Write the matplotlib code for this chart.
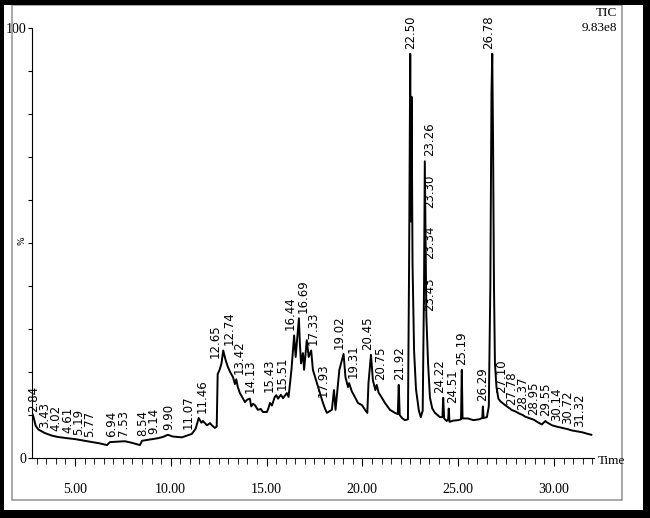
import numpy as np
import matplotlib
matplotlib.use('Agg')
import matplotlib.pyplot as plt
from matplotlib.patches import Rectangle
from matplotlib.ticker import MultipleLocator

# TIC trace: retention time (min) and relative abundance (%)
rt = [2.76, 2.84, 2.95, 3.10, 3.43, 3.80, 4.10, 4.60, 5.00, 5.50, 5.90, 6.30, 6.67, 6.83, 7.20,
      7.61, 8.00, 8.39, 8.50, 8.90, 9.33, 9.60, 9.85, 10.10, 10.58, 10.90, 11.10, 11.30, 11.46, 11.60,
      11.68, 11.89, 12.05, 12.15, 12.30, 12.40, 12.45, 12.55, 12.65, 12.74, 12.85, 12.98, 13.10, 13.25,
      13.35, 13.42, 13.50, 13.61, 13.75, 13.87, 14.00, 14.13, 14.20, 14.30, 14.39, 14.55, 14.70, 14.81,
      15.02, 15.10, 15.18, 15.28, 15.43, 15.51, 15.60, 15.75, 15.86, 16.06, 16.15, 16.30, 16.44, 16.52,
      16.69, 16.74, 16.80, 16.90, 16.96, 17.10, 17.20, 17.33, 17.42, 17.63, 17.79, 17.93, 18.05, 18.15,
      18.41, 18.52, 18.60, 18.80, 19.02, 19.12, 19.25, 19.31, 19.45, 19.61, 19.77, 19.98, 20.14, 20.26,
      20.32, 20.45, 20.55, 20.68, 20.75, 20.85, 21.02, 21.18, 21.44, 21.70, 21.85, 21.90, 21.95, 22.07,
      22.22, 22.38, 22.44, 22.50, 22.53, 22.57, 22.62, 22.70, 22.80, 22.95, 23.05, 23.15, 23.22, 23.26,
      23.30, 23.34, 23.43, 23.53, 23.65, 23.79, 24.05, 24.18, 24.22, 24.27, 24.40, 24.48, 24.51, 24.55,
      24.75, 25.00, 25.15, 25.19, 25.23, 25.50, 25.80, 26.10, 26.26, 26.29, 26.33, 26.50, 26.60, 26.68,
      26.74, 26.78, 26.82, 26.87, 26.92, 27.00, 27.10, 27.20, 27.45, 27.70, 27.78, 28.00, 28.20, 28.37,
      28.50, 28.75, 28.95, 29.16, 29.37, 29.55, 29.63, 29.90, 30.14, 30.42, 30.72, 30.94, 31.32, 31.46,
      31.77, 31.95]
pct = [10.5, 9.5, 7.5, 6.6, 5.8, 5.2, 4.9, 4.6, 4.4, 4.0, 3.7, 3.4, 3.0, 3.7, 3.8,
       3.9, 3.5, 3.0, 4.0, 4.3, 4.6, 4.9, 5.4, 5.0, 4.8, 5.3, 5.6, 6.8, 9.3, 8.2,
       8.6, 7.6, 8.1, 7.6, 7.0, 7.3, 19.5, 20.5, 22.0, 25.0, 23.0, 21.2, 20.0, 18.8,
       17.2, 18.3, 16.5, 15.1, 14.0, 13.0, 13.6, 13.8, 12.0, 12.6, 12.3, 11.2, 11.4, 10.7,
       10.7, 11.6, 12.8, 12.2, 14.2, 14.6, 13.8, 14.7, 13.9, 15.1, 14.2, 20.5, 28.5, 23.5,
       32.5, 26.7, 22.0, 24.4, 20.5, 27.4, 23.5, 25.0, 20.5, 17.4, 15.1, 13.0, 11.5, 10.5,
       11.2, 15.8, 11.2, 20.5, 24.2, 18.8, 16.5, 17.4, 15.5, 14.2, 12.8, 12.3, 11.2, 10.5,
       17.4, 24.0, 18.1, 15.8, 17.0, 15.2, 14.0, 12.8, 11.2, 10.5, 10.2, 17.0, 10.0, 9.3,
       8.8, 9.0, 45.0, 94.0, 55.0, 84.0, 45.0, 25.0, 16.0, 11.0, 9.5, 11.0, 40.0, 69.0,
       50.0, 33.0, 22.0, 14.0, 11.5, 10.5, 9.5, 9.5, 14.0, 9.2, 8.6, 9.0, 11.5, 8.4,
       8.7, 8.8, 9.0, 20.5, 9.2, 9.2, 8.8, 9.0, 9.3, 12.0, 9.3, 9.5, 12.0, 40.0,
       85.0, 94.0, 75.0, 40.0, 22.0, 16.5, 13.8, 13.2, 12.3, 11.5, 11.2, 10.8, 10.3, 10.0,
       9.6, 9.2, 8.9, 8.3, 7.8, 8.6, 8.3, 7.6, 7.3, 7.0, 6.7, 6.4, 6.1, 6.0,
       5.6, 5.4]

peak_lbl = ['2.84', '3.43', '4.02', '4.61', '5.19', '5.77', '6.94', '7.53', '8.54', '9.14', '9.90',
            '11.07', '11.46', '12.65', '12.74', '13.42', '14.13', '15.43', '15.51', '16.44', '16.69',
            '17.33', '17.93', '19.02', '19.31', '20.45', '20.75', '21.92', '22.50', '23.26', '23.30',
            '23.34', '23.43', '24.22', '24.51', '25.19', '26.29', '26.78', '27.10', '27.78', '28.37',
            '28.95', '29.55', '30.14', '30.72', '31.32']

W, H = 650, 518
serif = ['Liberation Serif', 'DejaVu Serif']

fig = plt.figure(figsize=(W / 100, H / 100), dpi=100)
ax = fig.add_axes([32 / W, (H - 458) / H, (594 - 32) / W, 458 / H])
ax.plot(rt, pct, color='black', lw=1.4)
ax.set_xlim(2.76, 32.09)
ax.set_ylim(0, 106.5)

for s in ['top', 'right']:
    ax.spines[s].set_visible(False)
ax.spines['left'].set_bounds(0, 100)

ax.set_yticks(range(0, 101, 10))
ax.set_yticklabels(['0'] + [''] * 9 + ['100'], family=serif)
ax.xaxis.set_minor_locator(MultipleLocator(0.5))
ax.set_xticks([5, 10, 15, 20, 25, 30])
ax.set_xticklabels(['5.00', '10.00', '15.00', '20.00', '25.00', '30.00'], family=serif)
ax.tick_params(axis='y', direction='out', length=3, pad=1, labelsize=10)
ax.tick_params(axis='x', which='major', direction='out', length=6, pad=12, labelsize=10)
ax.tick_params(axis='x', which='minor', direction='out', length=4)

# peak labels: sit on the trace, crowded runs are stacked, close pairs pushed apart
t_arr = np.array(rt)
p_arr = np.array(pct)
lab_t = [float(s) for s in peak_lbl]
lab_x = list(lab_t)
lab_y = []
for x in lab_t:
    near = p_arr[np.abs(t_arr - x) <= 0.06]
    lab_y.append(max(np.max(near, initial=0), np.interp(x, t_arr, p_arr)) + 1.2)

lab_len = 8.4
step = 12.0
n = len(lab_t)
stacked = [False] * n
i = 0
while i < n:
    j = i
    while j + 1 < n and lab_t[j + 1] - lab_t[j] < 0.12:
        j += 1
    if j - i >= 2:
        for k in range(i, j + 1):
            lab_x[k] = lab_t[j] + 0.1
            stacked[k] = True
            if k > i:
                lab_y[k] = lab_y[k - 1] - step
    i = j + 1

for it in range(40):
    for k in range(n - 1):
        if stacked[k] or stacked[k + 1] or lab_t[k + 1] - lab_t[k] >= 0.45:
            continue
        d = lab_x[k + 1] - lab_x[k]
        if d < 0.7:
            sh = (0.7 - d) / 2
            lab_x[k] -= sh
            lab_x[k + 1] += sh
for k in range(1, n):
    if lab_x[k] - lab_x[k - 1] < 0.52 and abs(lab_y[k] - lab_y[k - 1]) < lab_len:
        lab_x[k] = lab_x[k - 1] + 0.52

for s, x, y in zip(peak_lbl, lab_x, lab_y):
    ax.text(x, y, s, rotation=90, ha='center', va='bottom', fontsize=8.5, clip_on=False)

fig.text(598 / W, 1 - 461 / H, 'Time', ha='left', va='center', fontsize=9.5, family=serif)
fig.text(22 / W, 1 - 241 / H, '%', rotation=90, ha='center', va='center', fontsize=6.5)
fig.text(617 / W, 1 - 13 / H, 'TIC', ha='right', va='center', fontsize=9.5, family=serif)
fig.text(617 / W, 1 - 28 / H, '9.83e8', ha='right', va='center', fontsize=9.5, family=serif)

# frames round the picture
fig.add_artist(Rectangle((12 / W, 1 - 500 / H), 610 / W, 495 / H, transform=fig.transFigure,
                         fill=False, ec='#9a9a9a', lw=1.2))
for x0, y0, w, h in [(0, 0, 4, H), (643, 0, 7, H), (0, 0, W, 5), (0, 510, W, 8)]:
    fig.add_artist(Rectangle((x0 / W, 1 - (y0 + h) / H), w / W, h / H, transform=fig.transFigure,
                             fc='black', ec='none'))

fig.savefig('out.png', dpi=100)
